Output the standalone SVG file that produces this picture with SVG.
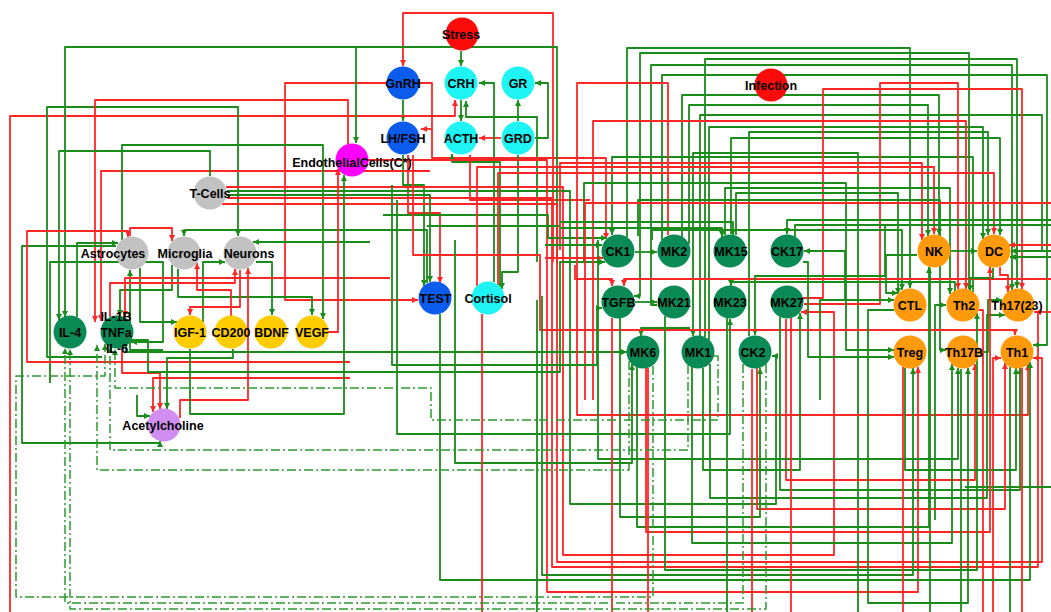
<svg xmlns="http://www.w3.org/2000/svg" width="1051" height="612" viewBox="0 0 1051 612">
<style>
path{fill:none;stroke-width:1.8;stroke-linejoin:round}
.g,.ga{stroke:#1a8c1a}
.r,.ra{stroke:#ff2626}
.d,.da{stroke:#2c9a2c;stroke-width:1.5;stroke-dasharray:9 3 2 3}
.ga,.da{marker-end:url(#ag)}
.ra{marker-end:url(#ar)}
.mg{fill:#1a8c1a;stroke:none}
.mr{fill:#ff2626;stroke:none}
.n text{font-family:"Liberation Sans",Arial,sans-serif;font-weight:bold;font-size:12.5px;text-anchor:middle;fill:#000}
.gn{fill:#0a8a55}.on{fill:#ff9a0c}.yn{fill:#ffcc00}.sn{fill:#c2c2c2}.cn{fill:#1ef4f4}.bn{fill:#0b5ced}.rn{fill:#ff0a0a}.mn{fill:#ff00ff}.vn{fill:#d08ef0}
</style>
<defs>
<marker id="ag" viewBox="0 0 8 8" refX="8" refY="4" markerWidth="6" markerHeight="6" markerUnits="userSpaceOnUse" orient="auto"><path class="mg" d="M0 0L8 4L0 8z"/></marker>
<marker id="ar" viewBox="0 0 8 8" refX="8" refY="4" markerWidth="6" markerHeight="6" markerUnits="userSpaceOnUse" orient="auto"><path class="mr" d="M0 0L8 4L0 8z"/></marker>
</defs>
<rect width="1051" height="612" fill="#fff"/>
<g id="connectors">
<path class="ra" d="M553 262V13H403V66"/>
<path class="ga" d="M461 51V66"/>
<path class="ga" d="M403 100V121"/>
<path class="ga" d="M461 100V121"/>
<path class="ga" d="M518 121V100"/>
<path class="ga" d="M535 138H548V83H535"/>
<path class="ra" d="M501 138H479"/>
<path class="ga" d="M494 282V83H479"/>
<path class="ga" d="M537 262V117H466V101"/>
<path class="ra" d="M10 612V116H455V100"/>
<path class="ra" d="M386 83H285V300H418"/>
<path class="ra" d="M420 83H432V158H606V239"/>
<path class="ra" d="M432 129H421"/>
<path class="ra" d="M408 155V213H440V283"/>
<path class="ga" d="M403 155V185H424V286"/>
<path class="ga" d="M500 287V162H452V154"/>
<path class="ra" d="M590 200H470V155"/>
<path class="ga" d="M518 155V272H502V289"/>
<path class="ga" d="M557 265V47H65V317"/>
<path class="ga" d="M356 48V143"/>
<path class="ga" d="M102 357H47V107H238V236"/>
<path class="ra" d="M348 144V100H95V322"/>
<path class="ra" d="M430 171H101V321"/>
<path class="ga" d="M210 176V151H59V320"/>
<path class="ga" d="M122 240V145H323V319"/>
<path class="ra" d="M226 187H563V555H834V312H801"/>
<path class="ra" d="M227 198H552V567H1038V312H1035"/>
<path class="ra" d="M222 204H557V562H1042V358H1033"/>
<path class="ga" d="M227 191H570V504H776V356H772"/>
<path class="ga" d="M226 195H430V282"/>
<path class="ra" d="M368 160H547V592H918V367"/>
<path class="ga" d="M383 215H548V238H607"/>
<path class="g" d="M427 226H560"/>
<path class="ga" d="M77 317V243H118"/>
<path class="ga" d="M116 246H22V443H160V441"/>
<path class="ga" d="M50 383V262H163V342H131"/>
<path class="ga" d="M172 265V290H120V316"/>
<path class="ga" d="M178 269V297H312V315"/>
<path class="ga" d="M140 268V322H177"/>
<path class="ga" d="M163 350H130V270"/>
<path class="ga" d="M203 322V262H225"/>
<path class="ga" d="M256 262H272V315"/>
<path class="ga" d="M370 242H253"/>
<path class="ga" d="M427 283V230H184V236"/>
<path class="ra" d="M130 236V228H172V241"/>
<path class="ra" d="M350 362H27V231H128V237"/>
<path class="ra" d="M231 316V290H197V263"/>
<path class="ra" d="M240 270V307H190V315"/>
<path class="ra" d="M110 317V283H235V269"/>
<path class="ra" d="M390 278H125V317"/>
<path class="ra" d="M180 418V400H248V268"/>
<path class="ra" d="M328 332H338V169"/>
<path class="ra" d="M350 378H153V412"/>
<path class="ra" d="M122 348V373H160V409"/>
<path class="ga" d="M137 395V416H150"/>
<path class="ga" d="M190 349V414H344V175"/>
<path class="ga" d="M233 349V358H167V409"/>
<path class="ga" d="M131 340H148V372H560V262H605"/>
<path class="ga" d="M126 346V352H627"/>
<path class="ga" d="M627 237V48H910V288"/>
<path class="ga" d="M969 289V53H640V296H634"/>
<path class="ga" d="M705 337V59H1017V288"/>
<path class="ga" d="M657 305H651V65H1012V290"/>
<path class="ga" d="M662 240V75H1047V345H1033"/>
<path class="ga" d="M682 237V95H939V235"/>
<path class="ga" d="M689 244V105H928V236"/>
<path class="ga" d="M700 336V115H1042V251H1011"/>
<path class="ga" d="M709 340V127H983V239"/>
<path class="ga" d="M749 336V132H988V235"/>
<path class="ga" d="M731 234V138H1000V235"/>
<path class="ga" d="M858 612V153H693V336"/>
<path class="ga" d="M973 292V157H612V235"/>
<path class="ra" d="M668 235V83H577V415H1028V364"/>
<path class="ra" d="M804 304H880V83H958V289"/>
<path class="ra" d="M803 298H823V89H1022V289"/>
<path class="ra" d="M593 400V121H966V289"/>
<path class="ra" d="M560 250V163H922V240"/>
<path class="ra" d="M477 286V167H934V234"/>
<path class="ra" d="M498 285V173H994V234"/>
<path class="ga" d="M584 262V183H846V350H894"/>
<path class="ga" d="M725 235V188H950V294"/>
<path class="ga" d="M736 235V193H898V294"/>
<path class="ga" d="M638 236V200H940V350H946"/>
<path class="r" d="M585 400V203H1051"/>
<path class="g" d="M795 237V225H1051"/>
<path class="ga" d="M652 240V230H902V290"/>
<path class="ga" d="M635 252H657"/>
<path class="ga" d="M635 302H657"/>
<path class="ra" d="M1051 279H624V286"/>
<path class="ra" d="M575 265V279H612V286"/>
<path class="ga" d="M690 328H641V336"/>
<path class="ga" d="M560 228H722V237"/>
<path class="ga" d="M560 222H733V235"/>
<path class="ga" d="M1051 220H787V234"/>
<path class="ga" d="M845 300V251H804"/>
<path class="ga" d="M955 291V282H731V286"/>
<path class="ga" d="M885 225V276H755V335"/>
<path class="ga" d="M545 245H602"/>
<path class="ra" d="M545 258H603"/>
<path class="ga" d="M917 255H886V293H898"/>
<path class="ga" d="M820 400V300H894"/>
<path class="ga" d="M803 262H808V357H894"/>
<path class="ga" d="M935 520V305H946"/>
<path class="ga" d="M979 352H988V300H1002"/>
<path class="r" d="M979 310H983V612"/>
<path class="r" d="M1034 312H1051"/>
<path class="ra" d="M413 155V255H540V330H1015V335"/>
<path class="ra" d="M993 612V358H1001"/>
<path class="ga" d="M993 268V278H970V291"/>
<path class="ra" d="M1000 267V275H1008V292"/>
<path class="ra" d="M1051 245H1009"/>
<path class="ga" d="M1051 251H1011"/>
<path class="ga" d="M1051 257H1010"/>
<path class="ga" d="M951 251H977"/>
<path class="g" d="M930 268V612"/>
<path class="ra" d="M786 319V480H975V364"/>
<path class="ga" d="M598 240V459H958V368"/>
<path class="ga" d="M703 368V470H800V313"/>
<path class="ga" d="M905 368V470H1016V368"/>
<path class="ga" d="M780 317V490H1020V368"/>
<path class="g" d="M965 487H1051"/>
<path class="ga" d="M710 364V498H987V315H1005"/>
<path class="ra" d="M757 368V509H1005V363"/>
<path class="ga" d="M620 318V517H760V368"/>
<path class="ga" d="M637 367V527H929V267"/>
<path class="ra" d="M646 368V532H990V267"/>
<path class="ga" d="M692 367V543H952V364"/>
<path class="ga" d="M665 316V570H977V313"/>
<path class="ga" d="M542 296V575H913V368"/>
<path class="ga" d="M440 314V580H1030V362"/>
<path class="ga" d="M894 310H868V603H968V368"/>
<path class="ga" d="M455 240V463H632V364"/>
<path class="r" d="M482 314V612"/>
<path class="g" d="M537 300V612"/>
<path class="ga" d="M397 200V434H730V319"/>
<path class="ga" d="M392 185V365H597V308H602"/>
<path class="r" d="M791 318V612"/>
<path class="r" d="M752 369V612"/>
<path class="g" d="M727 318V612"/>
<path class="r" d="M612 318V612"/>
<path class="r" d="M648 368V612"/>
<path class="r" d="M903 367V612"/>
<path class="g" d="M1010 367V612"/>
<path class="r" d="M1022 368V612"/>
<path class="g" d="M961 369V612"/>
<path class="da" d="M743 364V603H65V348"/>
<path class="da" d="M766 364V609H70V349"/>
<path class="da" d="M653 366V597H16V376H105V344"/>
<path class="da" d="M629 361V470H97V345"/>
<path class="da" d="M688 365V450H110V347"/>
<path class="da" d="M714 356H718V420H431V388H115V349"/>
</g>
<g id="n-stress" class="n"><circle class="rn" cx="462" cy="34" r="16.5"/><text x="461" y="38.5">Stress</text></g>
<g id="n-gnrh" class="n"><circle class="bn" cx="403" cy="83" r="16.5"/><text x="403" y="87.5">GnRH</text></g>
<g id="n-crh" class="n"><circle class="cn" cx="461" cy="83" r="16.5"/><text x="461" y="87.5">CRH</text></g>
<g id="n-gr" class="n"><circle class="cn" cx="518" cy="83" r="16.5"/><text x="518" y="87.5">GR</text></g>
<g id="n-lhfsh" class="n"><circle class="bn" cx="403" cy="138" r="16.5"/><text x="403" y="142.5">LH/FSH</text></g>
<g id="n-acth" class="n"><circle class="cn" cx="461" cy="138" r="16.5"/><text x="461" y="142.5">ACTH</text></g>
<g id="n-grd" class="n"><circle class="cn" cx="518" cy="138" r="16.5"/><text x="518" y="142.5">GRD</text></g>
<g id="n-endothelial" class="n"><circle class="mn" cx="352" cy="160" r="16.5"/><text x="352" y="167">EndothelialCells(C*)</text></g>
<g id="n-infection" class="n"><circle class="rn" cx="771" cy="85" r="16.5"/><text x="771" y="89.5">Infection</text></g>
<g id="n-tcells" class="n"><circle class="sn" cx="210" cy="193" r="16.5"/><text x="210" y="197.5">T-Cells</text></g>
<g id="n-astrocytes" class="n"><circle class="sn" cx="132" cy="253" r="16.5"/><text x="113" y="257.5">Astrocytes</text></g>
<g id="n-microglia" class="n"><circle class="sn" cx="184" cy="253" r="16.5"/><text x="185" y="257.5">Microglia</text></g>
<g id="n-neurons" class="n"><circle class="sn" cx="240" cy="253" r="16.5"/><text x="249" y="257.5">Neurons</text></g>
<g id="n-il4" class="n"><circle class="gn" cx="70" cy="332" r="16.5"/><text x="70" y="336.5">IL-4</text></g>
<g id="n-tnfa" class="n"><circle class="gn" cx="117" cy="332" r="16.5"/><text x="116" y="320.5">IL-1B</text><text x="116" y="337">TNFa</text><text x="117" y="352.5">IL-6</text></g>
<g id="n-igf1" class="n"><circle class="yn" cx="190" cy="332" r="16.5"/><text x="190" y="336.5">IGF-1</text></g>
<g id="n-cd200" class="n"><circle class="yn" cx="231" cy="332" r="16.5"/><text x="231" y="336.5">CD200</text></g>
<g id="n-bdnf" class="n"><circle class="yn" cx="271" cy="332" r="16.5"/><text x="271.5" y="336.5">BDNF</text></g>
<g id="n-vegf" class="n"><circle class="yn" cx="312" cy="332" r="16.5"/><text x="312" y="336.5">VEGF</text></g>
<g id="n-acetylcholine" class="n"><circle class="vn" cx="164" cy="425" r="16.5"/><text x="163" y="429.5">Acetylcholine</text></g>
<g id="n-test" class="n"><circle class="bn" cx="435" cy="298" r="16.5"/><text x="435.5" y="302.5">TEST</text></g>
<g id="n-cortisol" class="n"><circle class="cn" cx="488" cy="298" r="16.5"/><text x="488" y="302.5">Cortisol</text></g>
<g id="n-ck1" class="n"><circle class="gn" cx="618" cy="251" r="16.5"/><text x="618" y="255.5">CK1</text></g>
<g id="n-mk2" class="n"><circle class="gn" cx="674" cy="251" r="16.5"/><text x="674" y="255.5">MK2</text></g>
<g id="n-mk15" class="n"><circle class="gn" cx="730" cy="251" r="16.5"/><text x="731" y="255.5">MK15</text></g>
<g id="n-ck17" class="n"><circle class="gn" cx="787" cy="251" r="16.5"/><text x="787" y="255.5">CK17</text></g>
<g id="n-tgfb" class="n"><circle class="gn" cx="618" cy="302" r="16.5"/><text x="618.5" y="306.5">TGFB</text></g>
<g id="n-mk21" class="n"><circle class="gn" cx="674" cy="302" r="16.5"/><text x="674" y="306.5">MK21</text></g>
<g id="n-mk23" class="n"><circle class="gn" cx="730" cy="302" r="16.5"/><text x="730" y="306.5">MK23</text></g>
<g id="n-mk27" class="n"><circle class="gn" cx="787" cy="302" r="16.5"/><text x="787" y="306.5">MK27</text></g>
<g id="n-mk6" class="n"><circle class="gn" cx="643" cy="352" r="16.5"/><text x="643" y="356.5">MK6</text></g>
<g id="n-mk1" class="n"><circle class="gn" cx="698" cy="352" r="16.5"/><text x="698" y="356.5">MK1</text></g>
<g id="n-ck2" class="n"><circle class="gn" cx="755" cy="352" r="16.5"/><text x="753" y="356.5">CK2</text></g>
<g id="n-nk" class="n"><circle class="on" cx="934" cy="251" r="16.5"/><text x="934" y="255.5">NK</text></g>
<g id="n-dc" class="n"><circle class="on" cx="994" cy="251" r="16.5"/><text x="994" y="255.5">DC</text></g>
<g id="n-ctl" class="n"><circle class="on" cx="910" cy="305" r="16.5"/><text x="910" y="309.5">CTL</text></g>
<g id="n-th2" class="n"><circle class="on" cx="963" cy="305" r="16.5"/><text x="964" y="309.5">Th2</text></g>
<g id="n-th1723" class="n"><circle class="on" cx="1018" cy="305" r="16.5"/><text x="1017" y="309.5">Th17(23)</text></g>
<g id="n-treg" class="n"><circle class="on" cx="910" cy="352" r="16.5"/><text x="910" y="356.5">Treg</text></g>
<g id="n-th17b" class="n"><circle class="on" cx="963" cy="352" r="16.5"/><text x="964" y="356.5">Th17B</text></g>
<g id="n-th1" class="n"><circle class="on" cx="1017" cy="352" r="16.5"/><text x="1017" y="356.5">Th1</text></g>
</svg>
